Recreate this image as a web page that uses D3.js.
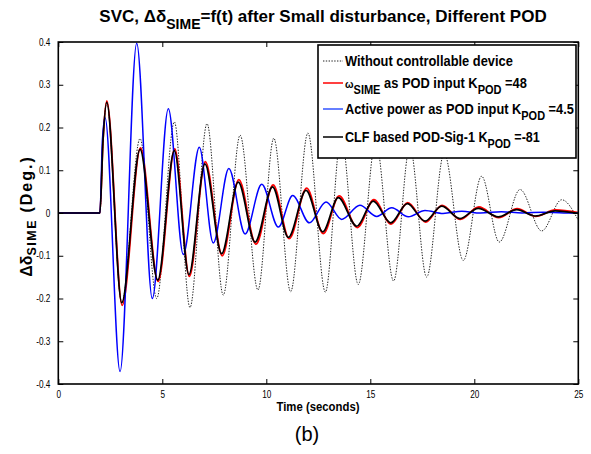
<!DOCTYPE html>
<html><head><meta charset="utf-8">
<script src="https://cdn.jsdelivr.net/npm/d3@7/dist/d3.min.js"></script>
<style>body{margin:0;background:#fff}svg{display:block}</style>
</head><body>
<svg id="c" width="591" height="454"></svg>
<script>
// ---- data ----
const xTicks = [0, 5, 10, 15, 20, 25];
const yTicks = [0.4, 0.3, 0.2, 0.1, 0, -0.1, -0.2, -0.3, -0.4];
const yTickLabels = ["0.4","0.3","0.2","0.1","0","-0.1","-0.2","-0.3","-0.4"];

const tNoDev = [0, 2.0, 2.15, 2.33, 3.05, 3.93, 4.73, 5.58, 6.33, 7.15, 7.93, 8.74, 9.6, 10.36, 11.17, 12.0, 12.84, 13.6, 14.42, 15.26, 16.12, 16.9, 17.71, 18.55, 19.47, 20.35, 21.2, 22.2, 23.24, 24.2, 25];
const vNoDev = [0, 0, 0.17, 0.259, -0.21, 0.174, -0.200, 0.213, -0.221, 0.209, -0.192, 0.182, -0.180, 0.175, -0.184, 0.187, -0.185, 0.18, -0.167, 0.168, -0.159, 0.155, -0.150, 0.14, -0.111, 0.086, -0.068, 0.055, -0.042, 0.031, -0.017];

const tOmega = [0, 2.0, 2.15, 2.33, 3.07, 3.95, 4.8, 5.6, 6.3, 7.07, 7.88, 8.68, 9.5, 10.33, 11.1, 11.94, 12.74, 13.5, 14.38, 15.17, 16.0, 16.8, 17.66, 18.45, 19.33, 20.22, 21.17, 22.06, 22.95, 23.9, 25];
const vOmega = [0, 0, 0.17, 0.262, -0.216, 0.152, -0.160, 0.150, -0.148, 0.12, -0.10, 0.078, -0.073, 0.066, -0.06, 0.058, -0.048, 0.040, -0.034, 0.031, -0.026, 0.024, -0.021, 0.018, -0.015, 0.014, -0.011, 0.010, -0.008, 0.007, 0.001];

const tPower = [0, 2.0, 2.12, 2.25, 2.97, 3.77, 4.52, 5.29, 6.01, 6.78, 7.45, 8.2, 8.98, 9.78, 10.58, 11.27, 12.07, 12.87, 13.63, 14.5, 15.31, 16.03, 16.83, 17.63, 18.5, 19.4, 20.3, 21.3, 22.3, 23.3, 24.3, 25];
const vPower = [0, 0, 0.17, 0.223, -0.371, 0.397, -0.200, 0.244, -0.097, 0.154, -0.070, 0.104, -0.049, 0.067, -0.033, 0.041, -0.023, 0.026, -0.015, 0.018, -0.008, 0.012, -0.009, 0.006, -0.001, 0.004, 0.000, 0.003, 0.000, 0.002, 0.000, 0.000];

const tClf = [0, 2.0, 2.15, 2.33, 3.05, 3.93, 4.78, 5.58, 6.28, 7.05, 7.85, 8.65, 9.46, 10.3, 11.06, 11.91, 12.71, 13.46, 14.35, 15.14, 15.98, 16.78, 17.63, 18.43, 19.31, 20.19, 21.15, 22.04, 22.92, 23.88, 25];
const vClf = [0, 0, 0.17, 0.259, -0.210, 0.149, -0.157, 0.146, -0.144, 0.115, -0.095, 0.072, -0.068, 0.061, -0.057, 0.053, -0.044, 0.036, -0.031, 0.028, -0.023, 0.022, -0.019, 0.016, -0.013, 0.011, -0.009, 0.008, -0.007, 0.005, -0.001];

// ---- layout ----
const svg = d3.select("#c");
const L = 58.3, R = 578.3, T = 42, B = 384;
const x = d3.scaleLinear().domain([0, 25]).range([L, R]);
const y = d3.scaleLinear().domain([-0.4, 0.4]).range([B, T]);
const FN = "'Liberation Sans',Arial,sans-serif";

const zip = (ts, vs) => ts.map((t, i) => [t, vs[i]]);
const line = d3.line().x(d => x(d[0])).y(d => y(d[1])).curve(d3.curveMonotoneX);

svg.append("clipPath").attr("id", "pc").append("rect")
  .attr("x", L).attr("y", T).attr("width", R - L).attr("height", B - T);
const g = svg.append("g").attr("clip-path", "url(#pc)");

g.append("path").datum(zip(tNoDev, vNoDev)).attr("d", line)
  .attr("fill", "none").attr("stroke", "#222").attr("stroke-width", 1).attr("stroke-dasharray", "1.4,1.4");
g.append("path").datum(zip(tOmega, vOmega)).attr("d", line)
  .attr("fill", "none").attr("stroke", "#ff0000").attr("stroke-width", 1.8);
g.append("path").datum(zip(tPower, vPower)).attr("d", line)
  .attr("fill", "none").attr("stroke", "#0000ff").attr("stroke-width", 1.5);
g.append("path").datum(zip(tClf, vClf)).attr("d", line)
  .attr("fill", "none").attr("stroke", "#000").attr("stroke-width", 1.7);

// condense a plain text horizontally
function condense(sel, f) {
  sel.each(function () {
    const w = this.getComputedTextLength();
    d3.select(this).attr("textLength", w * f).attr("lengthAdjust", "spacingAndGlyphs");
  });
}

// ---- axes (MATLAB-style box, inward ticks on all sides) ----
const ax = svg.append("g").attr("font-family", FN).attr("font-size", 12);
ax.append("g").attr("transform", `translate(0,${B})`)
  .call(d3.axisBottom(x).tickValues(xTicks).tickSizeInner(-5).tickSizeOuter(0).tickPadding(7).tickFormat(d3.format("d")));
ax.append("g").attr("transform", `translate(0,${T})`)
  .call(d3.axisTop(x).tickValues(xTicks).tickSizeInner(-5).tickSizeOuter(0).tickFormat(""));
ax.append("g").attr("transform", `translate(${L},0)`)
  .call(d3.axisLeft(y).tickValues(yTicks).tickSizeInner(-5).tickSizeOuter(0).tickPadding(8)
    .tickFormat((d, i) => yTickLabels[i]));
ax.append("g").attr("transform", `translate(${R},0)`)
  .call(d3.axisRight(y).tickValues(yTicks).tickSizeInner(-5).tickSizeOuter(0).tickFormat(""));
ax.selectAll(".domain").remove();
ax.selectAll(".tick line").attr("stroke", "#000").attr("stroke-width", 1);
ax.selectAll(".tick text").attr("fill", "#000");
condense(ax.selectAll(".tick text"), 0.82);
svg.append("rect").attr("x", L).attr("y", T).attr("width", R - L).attr("height", B - T)
  .attr("fill", "none").attr("stroke", "#000").attr("stroke-width", 1.6);

// ---- legend ----
const lg = svg.append("g").attr("font-family", FN).attr("font-weight", "bold").attr("font-size", 14);
lg.append("rect").attr("x", 318).attr("y", 45).attr("width", 258).attr("height", 113)
  .attr("fill", "#fff").attr("stroke", "#000").attr("stroke-width", 1.6);
const legRows = [
  {y: 61, stroke: "#222", dash: "1.4,1.4", w: 1, width: 168, parts: [["Without controllable device", 0]]},
  {y: 83, stroke: "#ff0000", dash: null, w: 1.5, width: 182, parts: [["ω", 0, 11], ["SIME", 1], [" as POD input K", 0], ["POD", 1], [" =48", 0]]},
  {y: 109, stroke: "#3355ff", dash: null, w: 1.5, width: 229, parts: [["Active power as POD input K", 0], ["POD", 1], [" =4.5", 0]]},
  {y: 137, stroke: "#000", dash: null, w: 1.5, width: 195, parts: [["CLF based POD-Sig-1 K", 0], ["POD", 1], [" =-81", 0]]}
];
legRows.forEach(r => {
  const ln = lg.append("line").attr("x1", 323).attr("x2", 343).attr("y1", r.y).attr("y2", r.y)
    .attr("stroke", r.stroke).attr("stroke-width", r.w);
  if (r.dash) ln.attr("stroke-dasharray", r.dash);
  const tg = lg.append("g");
  const t = tg.append("text").attr("x", 0).attr("y", 0);
  let sub = false;
  r.parts.forEach(p => {
    const ts = t.append("tspan").text(p[0]);
    if (p[1] === 1 && !sub) { ts.attr("dy", 6).attr("font-size", 12); sub = true; }
    else if (p[1] === 0 && sub) { ts.attr("dy", -6); sub = false; }
    if (p[2]) ts.attr("font-size", p[2]);
  });
  const w = t.node().getComputedTextLength();
  tg.attr("transform", `translate(345,${r.y + 5}) scale(${r.width / w},1)`);
});

// ---- titles ----
const title = svg.append("text").attr("x", 323).attr("y", 22).attr("text-anchor", "middle")
  .attr("font-family", FN).attr("font-weight", "bold").attr("font-size", 17);
title.append("tspan").text("SVC, Δδ");
title.append("tspan").attr("dy", 7).attr("font-size", 14).text("SIME");
title.append("tspan").attr("dy", -7).text("=f(t) after Small disturbance, Different POD");

const xl = svg.append("text").attr("x", 318).attr("y", 411).attr("text-anchor", "middle")
  .attr("font-family", FN).attr("font-weight", "bold").attr("font-size", 13.5).text("Time (seconds)");
condense(xl, 0.84);
svg.append("text").attr("x", 307).attr("y", 441).attr("text-anchor", "middle")
  .attr("font-family", FN).attr("font-size", 20).text("(b)");

const yLab = svg.append("text").attr("transform", "translate(32,216) rotate(-90)").attr("text-anchor", "middle")
  .attr("font-family", FN).attr("font-weight", "bold").attr("font-size", 16);
yLab.append("tspan").text("Δδ");
yLab.append("tspan").attr("dy", 4).attr("font-size", 12.5).attr("letter-spacing", 1.5).text("SIME");
yLab.append("tspan").attr("dy", -4).attr("letter-spacing", 2).text(" (Deg.)");
</script>
</body></html>
